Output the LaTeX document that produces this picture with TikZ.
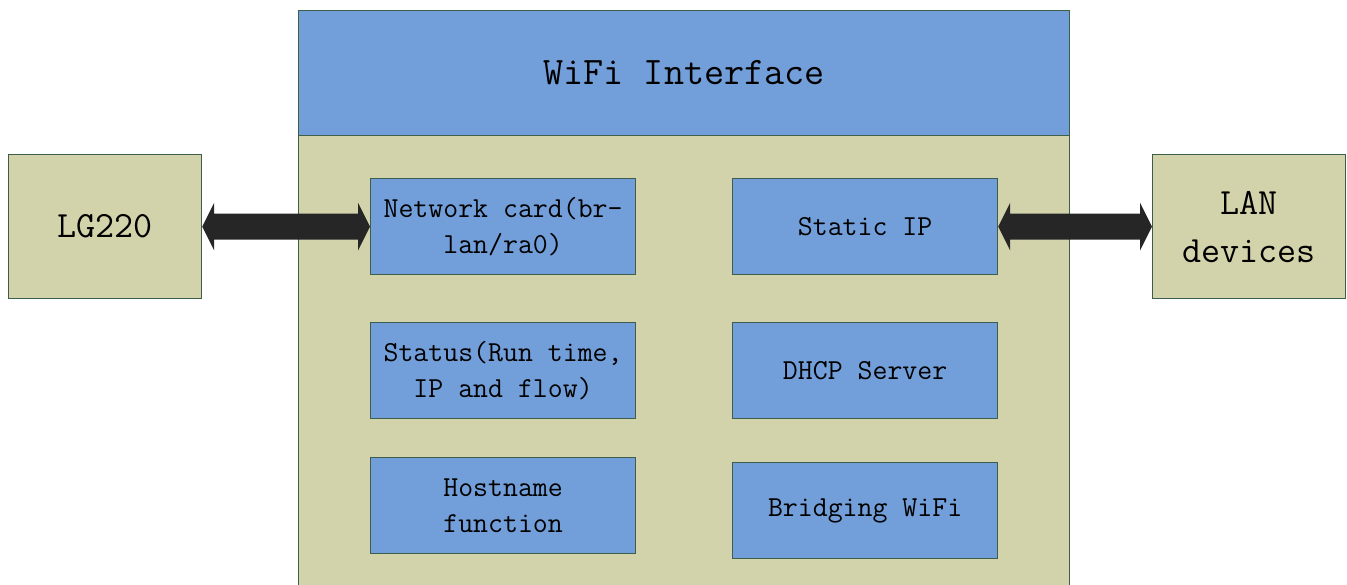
\documentclass[tikz,border=0pt]{standalone}
\usetikzlibrary{calc}
\definecolor{boxblue}{RGB}{114,159,218}
\definecolor{olive}{RGB}{211,211,171}
\definecolor{edge}{RGB}{62,94,76}
\definecolor{arrowfill}{RGB}{38,38,38}
\begin{document}
\begin{tikzpicture}[x=1pt,y=-1pt,
  base/.style={draw=edge,line width=1.2pt,inner sep=0pt,anchor=north west,font=\ttfamily},
  outer/.style={base,fill=olive,minimum width=193pt,minimum height=144pt,font=\ttfamily\fontsize{37}{48}\selectfont,align=center},
  func/.style={base,fill=boxblue,minimum width=265pt,minimum height=96pt,font=\ttfamily\fontsize{29}{36}\selectfont,align=center},
  dbl/.style={fill=arrowfill}]
\clip (0,0) rectangle (1347,585);
% big box
\node[base,fill=olive,minimum width=771pt,minimum height=600pt] (body) at (298,10) {};
\node[base,fill=boxblue,minimum width=771pt,minimum height=125pt,font=\ttfamily\fontsize{39}{46}\selectfont] (hdr) at (298,10) {WiFi Interface};
% side boxes
\node[outer] (lg) at (8,154) {LG220};
\node[outer] (lan) at (1152,154) {LAN\\devices};
% function boxes
\node[func] (nc) at (370,178) {Network card(br-\\lan/ra0)};
\node[func] (sip) at (732,178) {Static IP};
\node[func] (st) at (370,322) {Status(Run time,\\IP and flow)};
\node[func] (dhcp) at (732,322) {DHCP Server};
\node[func] (hn) at (370,457) {Hostname\\function};
\node[func] (bw) at (732,462) {Bridging WiFi};
% double block arrows
\fill[dbl] let \p1=(lg.east), \p2=(nc.west) in
  (\p1) -- (\x1+12pt,\y1+24pt) -- (\x1+12pt,\y1+13pt) -- (\x2-12pt,\y1+13pt) -- (\x2-12pt,\y1+24pt) -- (\p2)
  -- (\x2-12pt,\y1-24pt) -- (\x2-12pt,\y1-13pt) -- (\x1+12pt,\y1-13pt) -- (\x1+12pt,\y1-24pt) -- cycle;
\fill[dbl] let \p1=(sip.east), \p2=(lan.west) in
  (\p1) -- (\x1+12pt,\y1+24pt) -- (\x1+12pt,\y1+13pt) -- (\x2-12pt,\y1+13pt) -- (\x2-12pt,\y1+24pt) -- (\p2)
  -- (\x2-12pt,\y1-24pt) -- (\x2-12pt,\y1-13pt) -- (\x1+12pt,\y1-13pt) -- (\x1+12pt,\y1-24pt) -- cycle;
\end{tikzpicture}
\end{document}
